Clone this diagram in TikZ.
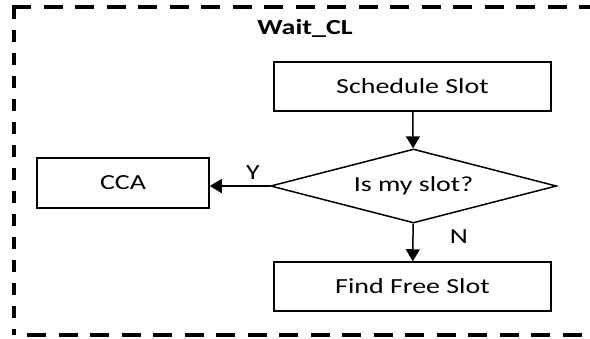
\documentclass[tikz,border=0pt]{standalone}
\usepackage{fontspec}
\setmainfont{Carlito}[FakeStretch=1.3]
\usetikzlibrary{arrows.meta,shapes.geometric}
\tikzset{
  txt/.style={font=\fontsize{21.5}{25}\selectfont},
  procbox/.style={draw, line width=1.5pt, minimum width=277pt, minimum height=49pt, inner sep=0pt, txt},
  decision/.style={draw, line width=1.5pt, diamond, aspect=3.86, minimum width=286pt, minimum height=74pt, inner sep=0pt, txt},
  flow/.style={line width=1.5pt, -{Triangle[length=12pt,width=14pt]}},
  branch/.style={txt},
  frameh/.style={line width=3.6pt, dash pattern=on 19pt off 12.5pt},
  framev/.style={line width=4pt, dash pattern=on 12pt off 11pt}
}
\begin{document}
\begin{tikzpicture}[x=1pt,y=-1pt]
\useasboundingbox (0,0) rectangle (590,338);
% dashed state frame (open to the right)
\coordinate (tl) at (12,7);
\coordinate (tr) at (600,7);
\coordinate (bl) at (14,335);
\coordinate (br) at (600,335);
\draw[frameh] (tl) -- (tr);
\draw[frameh] (27,335) -- (br);
\draw[framev] (14,7) -- (bl);
\node[font=\bfseries\fontsize{21.5}{25}\selectfont] (title) at (305,28) {Wait\_CL};
% flowchart
\node[procbox] (sched) at (412.5,86.5) {Schedule Slot};
\node[decision] (mine) at (413.5,186) {Is my slot?};
\node[procbox, minimum width=172pt, minimum height=50pt] (cca) at (123,183) {CCA};
\node[procbox] (free) at (412.5,286.5) {Find Free Slot};
\draw[flow] (sched) -- (mine);
\draw[flow] (mine.west) -- (cca.east |- mine.west);
\draw[flow] (mine) -- (free);
\node[branch] (ylab) at (253,173) {Y};
\node[branch] (nlab) at (459,237) {N};
\end{tikzpicture}
\end{document}
